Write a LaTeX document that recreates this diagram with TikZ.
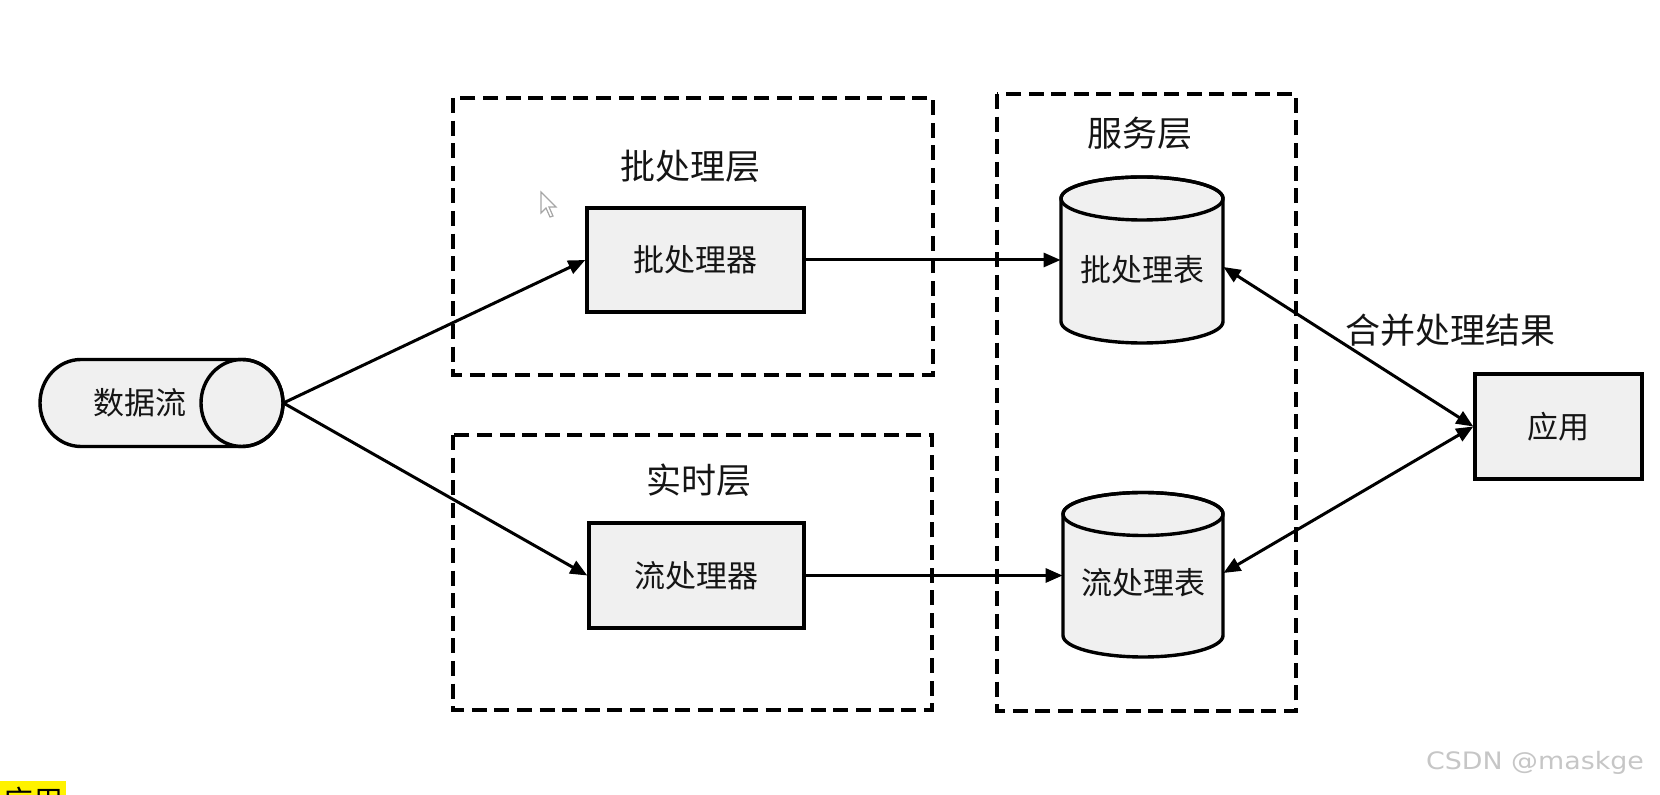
\documentclass[tikz,border=0pt]{standalone}
\usepackage{fontspec}
\newfontfamily\cjk{Noto Sans CJK SC}
\newfontfamily\wmfont{DejaVu Sans}
\usetikzlibrary{arrows.meta,calc}
\definecolor{boxgray}{HTML}{F0F0F0}
\definecolor{txt}{HTML}{151515}
\begin{document}
\begin{tikzpicture}[x=0.5pt,y=0.5pt,
  box/.style={draw=black, line width=1.7pt, fill=boxgray, inner sep=0pt, text=txt,
    font=\cjk\fontsize{15.5}{18}\selectfont},
  cyl/.style={draw=black, line width=1.7pt, fill=boxgray},
  inner/.style={inner sep=0pt, text=txt, font=\cjk\fontsize{15.5}{18}\selectfont},
  layertitle/.style={inner sep=0pt, text=txt, font=\cjk\fontsize{17.5}{20}\selectfont},
  layer/.style={draw=black, line width=1.9pt, dash pattern=on 7.5pt off 3.8pt},
  conn/.style={draw=black, line width=1.5pt, -{Triangle[length=8.5pt,width=7pt]}},
  biconn/.style={draw=black, line width=1.5pt, {Triangle[length=8.5pt,width=7pt]}-{Triangle[length=8.5pt,width=7pt]}}
]
\useasboundingbox (0,0) rectangle (1660,-795);
\clip (0,0) rectangle (1660,-795);

% dashed layers
\draw[layer] (453,-98) rectangle (933,-375);
\draw[layer] (453,-435) rectangle (932,-710);
\draw[layer] (997,-94) rectangle (1296,-711);

\node[layertitle] (batchlayer) at (690,-166) {批处理层};
\node[layertitle] (rtlayer) at (699,-480) {实时层};
\node[layertitle] (servlayer) at (1140,-133) {服务层};

% data stream cylinder (horizontal)
\draw[cyl] (242,-359.5) -- (81,-359.5)
  arc[start angle=90, end angle=270, x radius=41, y radius=43.5]
  -- (242,-446.5)
  arc[start angle=-90, end angle=90, x radius=41, y radius=43.5] -- cycle;
\draw[draw=black, line width=1.7pt] (242,-403) ellipse[x radius=41, y radius=43.5];
\node[minimum width=121.5pt, minimum height=43.5pt, inner sep=0pt] (ds) at (161.5,-403) {};
\node[inner] (dstext) at (140,-403) {数据流};

% processors
\node[box, minimum width=108.5pt, minimum height=52pt] (bp) at (695.5,-260) {批处理器};
\node[box, minimum width=107.5pt, minimum height=52.5pt] (sp) at (696.5,-575.5) {流处理器};

% batch table cylinder
\draw[cyl] (1061,-198.5) -- (1061,-321.5)
  arc[start angle=180, end angle=360, x radius=81, y radius=21.5]
  -- (1223,-198.5)
  arc[start angle=0, end angle=180, x radius=81, y radius=21.5] -- cycle;
\draw[draw=black, line width=1.7pt] (1142,-198.5) ellipse[x radius=81, y radius=21.5];
\node[inner, minimum width=81pt] (bt) at (1142,-270) {批处理表};

% stream table cylinder
\draw[cyl] (1063,-514) -- (1063,-635.5)
  arc[start angle=180, end angle=360, x radius=80, y radius=21.5]
  -- (1223,-514)
  arc[start angle=0, end angle=180, x radius=80, y radius=21.5] -- cycle;
\draw[draw=black, line width=1.7pt] (1143,-514) ellipse[x radius=80, y radius=21.5];
\node[inner, minimum width=80pt] (st) at (1143,-583) {流处理表};

% application
\node[box, minimum width=83.5pt, minimum height=52.5pt] (app) at (1558.5,-426.5) {应用};
\node[layertitle] (merge) at (1450,-330) {合并处理结果};

% connectors
\draw[conn] (ds.east) -- (bp.west);
\draw[conn] (ds.east) -- (sp.west);
\draw[conn] (bp.east) -- (bp.east -| bt.west);
\draw[conn] (sp.east) -- (sp.east -| st.west);
\draw[biconn] ($(bt.east)+(0,3)$) -- (app.west);
\draw[biconn] ($(st.east)+(0,10)$) -- (app.west);

% mouse cursor
\draw[gray!70, line width=0.6pt, fill=white]
  (541,-192) -- (541,-213) -- (546,-208) -- (550,-217) -- (553,-216) -- (549,-207) -- (556,-207) -- cycle;

% bottom-left highlighted text (cut off at the edge, as in the reference)
\node[anchor=north west, fill=yellow, inner xsep=1.5pt, inner ysep=3pt, text=black,
  font=\cjk\fontsize{15}{18}\selectfont] (yl) at (0,-781) {应用};

% watermark
\node[text=gray!45, font=\wmfont\fontsize{12}{14}\selectfont, inner sep=0pt] (wm) at (1535,-763)
  {\scalebox{1.12}[1]{CSDN @maskge}};
\end{tikzpicture}
\end{document}
